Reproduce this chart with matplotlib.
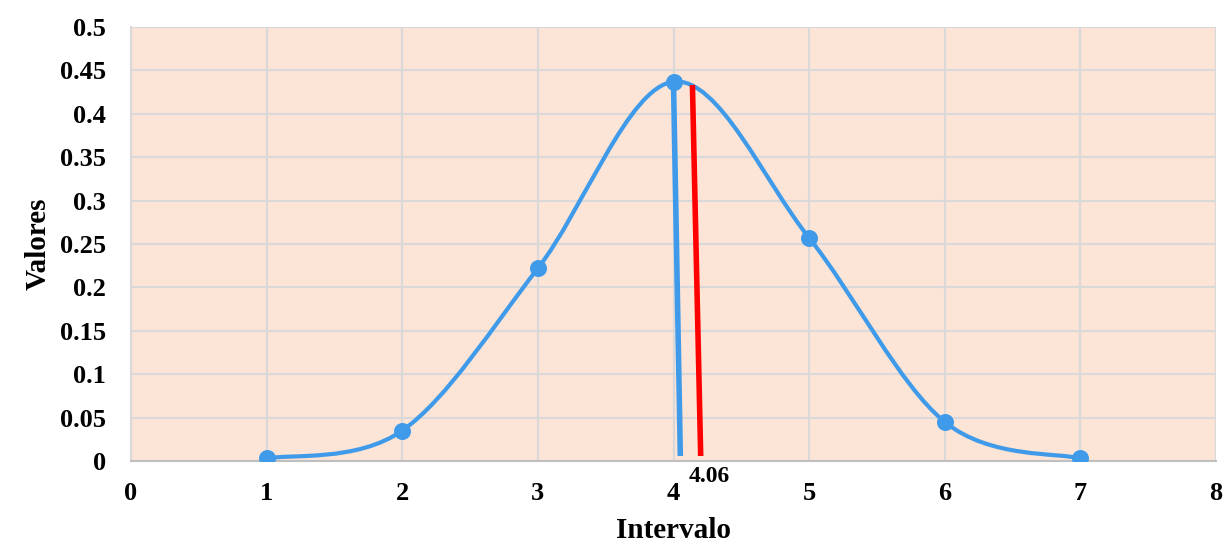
import matplotlib
matplotlib.use("Agg")
import matplotlib.pyplot as plt
import numpy as np
from matplotlib.path import Path
from matplotlib.patches import PathPatch

# datos
intervalo = [1, 2, 3, 4, 5, 6, 7]
valores = [0.003, 0.035, 0.222, 0.437, 0.257, 0.045, 0.003]

# líneas verticales (media y valor 4.06)
linea_azul_x = [4.0, 4.05]
linea_azul_y = [0.437, 0.009]
linea_roja_x = [4.14, 4.20]
linea_roja_y = [0.430, 0.009]
etiqueta_media = "4.06"

y_ticks = [0, 0.05, 0.1, 0.15, 0.2, 0.25, 0.3, 0.35, 0.4, 0.45, 0.5]
y_tick_labels = ["0", "0.05", "0.1", "0.15", "0.2", "0.25", "0.3", "0.35", "0.4", "0.45", "0.5"]
x_ticks = [0, 1, 2, 3, 4, 5, 6, 7, 8]

AZUL = "#3F9BEA"
plt.rcParams['font.family'] = ['Liberation Serif', 'DejaVu Serif']


def curva_suave(xs, ys):
    # curva tipo Excel: Bezier cúbica con tangentes Catmull-Rom
    pts = np.column_stack([xs, ys])
    n = len(pts)
    verts = [pts[0]]
    codes = [Path.MOVETO]
    for i in range(n - 1):
        p0 = pts[i - 1] if i > 0 else pts[i]
        p1 = pts[i]
        p2 = pts[i + 1]
        p3 = pts[i + 2] if i + 2 < n else pts[i + 1]
        c1 = p1 + (p2 - p0) / 6.0
        c2 = p2 - (p3 - p1) / 6.0
        verts += [c1, c2, p2]
        codes += [Path.CURVE4] * 3
    return Path(verts, codes)


fig = plt.figure(figsize=(12.25, 5.42), dpi=100)
ax = fig.add_axes([0.1069, 0.1494, 0.8858, 0.8008])
ax.set_facecolor("#FCE4D6")

ax.add_patch(PathPatch(curva_suave(intervalo, valores), facecolor="none",
                       edgecolor=AZUL, lw=3, zorder=3))
ax.scatter(intervalo, valores, s=150, color=AZUL, zorder=4, linewidths=0)

ax.plot(linea_azul_x, linea_azul_y, color=AZUL, lw=4, zorder=3)
ax.plot(linea_roja_x, linea_roja_y, color="#FF0000", lw=4, zorder=3)
ax.text(linea_roja_x[1] + 0.06, -0.006, etiqueta_media, ha="center", va="top",
        fontsize=17, fontweight="bold", clip_on=False)

ax.set_xlim(0, 8)
ax.set_ylim(0, 0.5)
ax.set_xticks(x_ticks)
ax.set_yticks(y_ticks)
ax.set_yticklabels(y_tick_labels)
ax.grid(True, color="#D9D9D9", lw=1.5)
ax.set_axisbelow(True)
ax.tick_params(length=0, labelsize=19)
ax.tick_params(axis="y", pad=18)
ax.tick_params(axis="x", pad=15)
for lbl in ax.get_xticklabels() + ax.get_yticklabels():
    lbl.set_fontweight("bold")

for s in ["top", "right"]:
    ax.spines[s].set_visible(False)
ax.spines["left"].set_color("#D9D9D9")
ax.spines["left"].set_linewidth(1.5)
ax.spines["bottom"].set_color("#BFBFBF")
ax.spines["bottom"].set_linewidth(1.5)

ax.set_xlabel("Intervalo", fontsize=21, fontweight="bold", labelpad=9)
ax.set_ylabel("Valores", fontsize=21, fontweight="bold", labelpad=6)

fig.savefig("out.png", dpi=100)
